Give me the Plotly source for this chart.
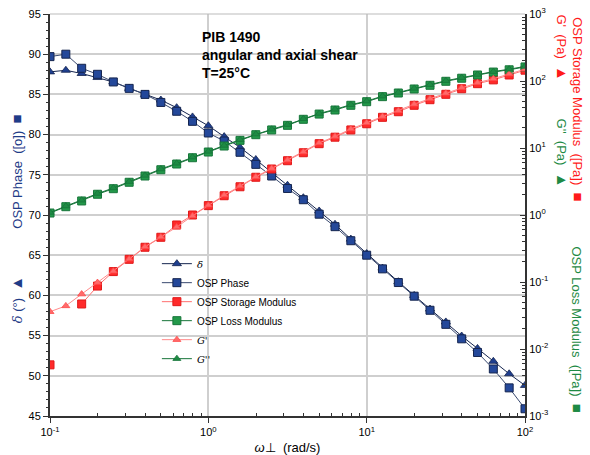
import plotly.graph_objects as go

omega = [0.1, 0.1259, 0.1585, 0.1995, 0.2512, 0.3162, 0.3981, 0.5012, 0.631, 0.7943,
         1.0, 1.259, 1.585, 1.995, 2.512, 3.162, 3.981, 5.012, 6.31, 7.943,
         10.0, 12.59, 15.85, 19.95, 25.12, 31.62, 39.81, 50.12, 63.1, 79.43, 100.0]

delta = [87.8, 88.0, 87.6, 87.1, 86.55, 85.75, 85.0, 84.3, 83.35, 82.2,
         81.1, 79.75, 78.4, 76.9, 75.3, 73.7, 72.15, 70.5, 68.85, 67.0,
         65.2, 63.4, 61.7, 60.0, 58.3, 56.7, 54.95, 53.4, 51.8, 50.25, 48.8]

phase_osp = [89.7, 90.0, 88.25, 87.5, 86.55, 85.75, 85.0, 84.0, 82.9, 81.65,
             80.2, 79.2, 77.8, 76.3, 74.85, 73.3, 71.9, 70.1, 68.55, 66.8,
             65.0, 63.3, 61.6, 59.9, 58.15, 56.4, 54.6, 52.9, 50.85, 48.5, 45.9]

storage_osp = [0.0058, None, 0.047, 0.087, 0.143, 0.218, 0.33, 0.465, 0.71, 1.0,
               1.38, 1.94, 2.64, 3.66, 4.86, 6.46, 8.5, 11.6, 14.5, 18.6,
               23.0, 28.7, 34.8, 43.4, 52.6, 63.3, 76.7, 91.2, 104, 123, 145]

g_prime = [0.036, 0.044, 0.066, 0.098, 0.145, 0.22, 0.335, 0.47, 0.66, 0.97,
           1.40, 1.98, 2.70, 3.72, 4.95, 6.6, 8.7, 11.9, 14.9, 19.2,
           23.8, 29.6, 36.0, 45.0, 54.5, 65.6, 79.5, 94.5, 108, 127, 150]

loss_osp = [1.07, 1.33, 1.62, 2.04, 2.47, 3.08, 3.82, 4.74, 5.77, 7.16,
            8.71, 10.7, 13.0, 15.8, 18.6, 21.8, 26.8, 32.1, 36.9, 43.4,
            49.1, 58.4, 66.2, 76.0, 86.3, 99, 110, 123, 136, 147, 162]

g_dprime = [1.09, 1.36, 1.66, 2.09, 2.53, 3.15, 3.9, 4.85, 5.9, 7.3,
            8.9, 10.9, 13.3, 16.1, 19.0, 22.3, 27.3, 32.7, 37.7, 44.3,
            50.1, 59.5, 67.5, 77.5, 88, 101, 112, 125, 138, 150, 165]

x_tickvals = [0.1, 1, 10, 100]
x_ticktext = ["10<sup>-1</sup>", "10<sup>0</sup>", "10<sup>1</sup>", "10<sup>2</sup>"]
y_ticks = [45, 50, 55, 60, 65, 70, 75, 80, 85, 90, 95]
y2_tickvals = [0.001, 0.01, 0.1, 1, 10, 100, 1000]
y2_ticktext = ["10<sup>-3</sup>", "10<sup>-2</sup>", "10<sup>-1</sup>", "10<sup>0</sup>",
               "10<sup>1</sup>", "10<sup>2</sup>", "10<sup>3</sup>"]

FONT = "Liberation Sans, Arial, sans-serif"
BLUE = "#1F3F8F"
NAVY = "#15254F"
RED = "#FF2A2A"
LRED = "#FF6A6A"
GREEN = "#23994A"
DGREEN = "#17753A"

fig = go.Figure()

fig.add_trace(go.Scatter(
    x=omega, y=delta, mode="lines+markers",
    name='<span style="font-family:DejaVu Serif"><i>δ</i></span>',
    line=dict(color=NAVY, width=1),
    marker=dict(symbol="triangle-up", size=8, color=BLUE, line=dict(color=NAVY, width=0.8)),
    yaxis="y"))
fig.add_trace(go.Scatter(
    x=omega, y=phase_osp, mode="lines+markers", name="OSP Phase",
    line=dict(color="#3A4A70", width=1),
    marker=dict(symbol="square", size=8, color="#24489A", line=dict(color=NAVY, width=1)),
    yaxis="y"))
fig.add_trace(go.Scatter(
    x=omega, y=storage_osp, mode="lines+markers", name="OSP Storage Modulus",
    line=dict(color="#FF7070", width=1), connectgaps=False,
    marker=dict(symbol="square", size=8, color=RED, line=dict(color="#E01818", width=1)),
    yaxis="y2"))
fig.add_trace(go.Scatter(
    x=omega, y=loss_osp, mode="lines+markers", name="OSP Loss Modulus",
    line=dict(color=DGREEN, width=1),
    marker=dict(symbol="square", size=8, color=GREEN, line=dict(color=DGREEN, width=1)),
    yaxis="y2"))
fig.add_trace(go.Scatter(
    x=omega, y=g_prime, mode="lines+markers",
    name='<span style="font-family:DejaVu Serif"><i>G\'</i></span>',
    line=dict(color="#FF8A8A", width=1),
    marker=dict(symbol="triangle-up", size=7, color=LRED, line=dict(color="#FF4A4A", width=0.8)),
    yaxis="y2"))
fig.add_trace(go.Scatter(
    x=omega, y=g_dprime, mode="lines+markers",
    name='<span style="font-family:DejaVu Serif"><i>G\'\'</i></span>',
    line=dict(color=DGREEN, width=1),
    marker=dict(symbol="triangle-up", size=7, color="#1E8A44", line=dict(color=DGREEN, width=0.8)),
    yaxis="y2"))

axis_line = "#333333"
fig.update_layout(
    width=590, height=455,
    margin=dict(l=50, r=65, t=14, b=39, autoexpand=False),
    paper_bgcolor="white", plot_bgcolor="white",
    font=dict(family=FONT, size=11, color="black"),
    showlegend=True,
    legend=dict(x=0.225, y=0.415, xanchor="left", yanchor="top",
                bgcolor="rgba(0,0,0,0)", borderwidth=0,
                font=dict(family=FONT, size=10, color="black"),
                tracegroupgap=0, itemwidth=30),
    xaxis=dict(type="log", range=[-1, 2], tickmode="array", automargin=False,
               tickvals=x_tickvals, ticktext=x_ticktext,
               ticks="outside", ticklen=5, tickcolor=axis_line,
               showline=True, linecolor=axis_line, linewidth=2, mirror=False,
               showgrid=True, gridcolor="#CFCFCF", gridwidth=1.5, zeroline=False,
               minor=dict(ticks="inside", ticklen=3, tickcolor=axis_line,
                          tickvals=[0.2, 0.3, 0.4, 0.5, 0.6, 0.7, 0.8, 0.9,
                                    2, 3, 4, 5, 6, 7, 8, 9,
                                    20, 30, 40, 50, 60, 70, 80, 90],
                          showgrid=False),
               title=dict(text="<i>ω</i>⊥  (rad/s)", font=dict(size=13), standoff=6)),
    yaxis=dict(range=[45, 95], tickmode="array", tickvals=y_ticks, automargin=False,
               ticks="outside", ticklen=5, tickcolor=axis_line,
               showline=True, linecolor=axis_line, linewidth=2,
               showgrid=True, gridcolor="#CFCFCF", gridwidth=1.5, zeroline=False,
               minor=dict(ticks="outside", ticklen=2, tickcolor=axis_line, dtick=1,
                          showgrid=False)),
    yaxis2=dict(type="log", range=[-3, 3], overlaying="y", side="right", automargin=False,
                tickmode="array", tickvals=y2_tickvals, ticktext=y2_ticktext,
                ticks="inside", ticklen=5, tickcolor=axis_line,
                showline=True, linecolor=axis_line, linewidth=2,
                showgrid=False, zeroline=False,
                minor=dict(ticks="inside", ticklen=3, tickcolor=axis_line,
                           tickvals=[m * d for d in [0.001, 0.01, 0.1, 1, 10, 100]
                                     for m in [2, 3, 4, 5, 6, 7, 8, 9]],
                           showgrid=False)),
)

fig.add_shape(type="line", xref="paper", yref="paper", x0=0, x1=1, y0=1, y1=1,
              line=dict(color="#BBBBBB", width=1))

fig.add_annotation(xref="paper", yref="paper", x=0.316, y=0.968, xanchor="left", yanchor="top",
                   align="left", showarrow=False,
                   text="<b>PIB 1490<br>angular and axial shear<br>T=25°C</b>",
                   font=dict(family=FONT, size=14, color="black"))

SQ = '<span style="font-size:15px">■</span>'
TR = '<span style="font-size:15px">▲</span>'


def side_title(x, y, angle, text, color):
    fig.add_annotation(xref="paper", yref="paper", x=x, y=y, xanchor="center", yanchor="middle",
                       textangle=angle, showarrow=False, text=text,
                       font=dict(family=FONT, size=13, color=color))


# left axis titles
side_title(-0.07, 0.607, -90, "OSP Phase  ([o])  " + SQ, "#1F3C88")
side_title(-0.07, 0.29, -90,
           '<span style="font-family:DejaVu Serif"><i>δ</i></span> (°)  ' + TR, "#1F3C88")

# right axis titles
side_title(1.111, 0.764, 90, "OSP Storage Modulus  ([Pa])  " + SQ, "#FF1A1A")
side_title(1.111, 0.216, 90, "OSP Loss Modulus  ([Pa])  " + SQ, "#1E8A44")
side_title(1.079, 0.918, 90, "G'  (Pa)  " + TR, "#FF1A1A")
side_title(1.079, 0.654, 90, "G''  (Pa)  " + TR, "#1E8A44")

fig.write_html("out.html", config={"displayModeBar": False},
               post_script="document.body.style.margin='0';")
